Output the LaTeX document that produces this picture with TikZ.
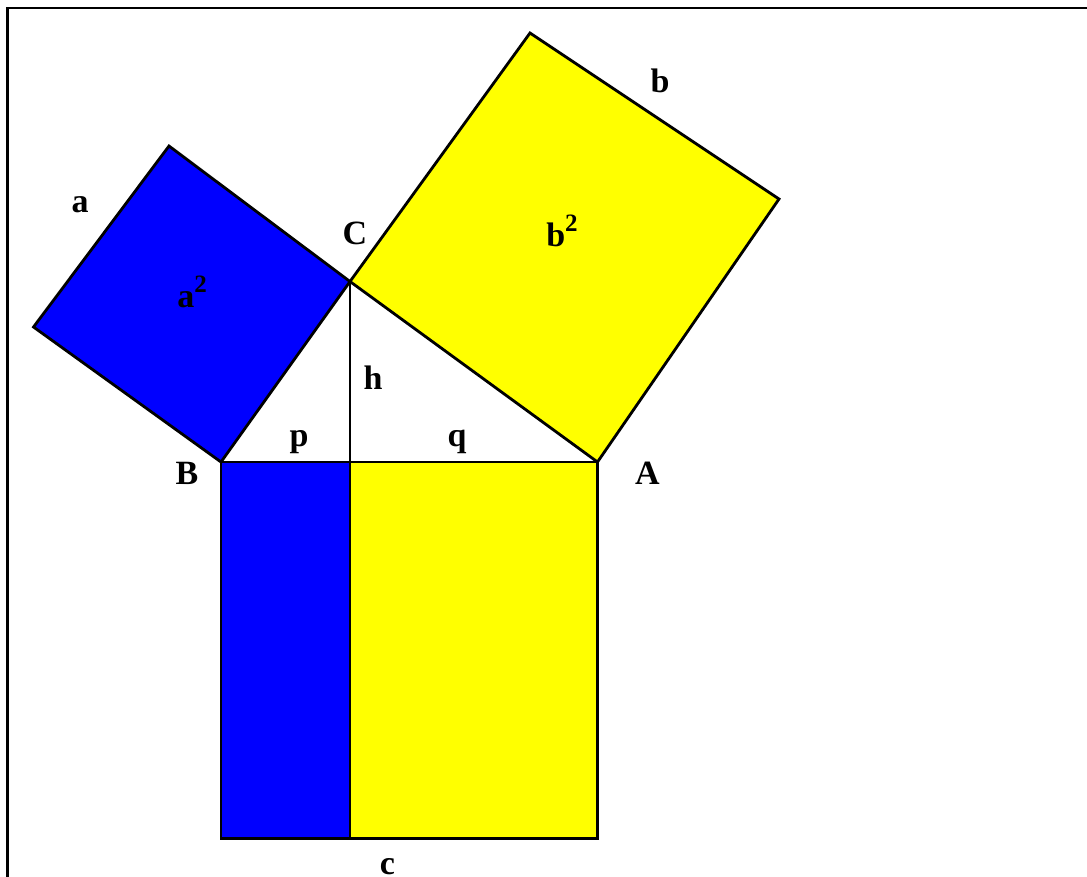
\documentclass[tikz,border=0pt]{standalone}
\usepackage{fontspec}
\setmainfont{Liberation Serif}
\usepackage{tikz}
\definecolor{sqblue}{rgb}{0,0,1}
\definecolor{sqyellow}{rgb}{1,1,0}
\tikzset{baseline=(current bounding box.center)}
\newcommand{\sqr}{\raisebox{0.45em}{\fontsize{25}{28}\selectfont 2}}

\begin{document}
\begin{tikzpicture}[x=1pt,y=-1pt,
    lbl/.style={inner sep=0pt,font=\fontsize{34}{38}\selectfont\bfseries},
    side/.style={draw=black,line width=2.8pt,line join=miter}]
\useasboundingbox (0,0) rectangle (1087,876);
\clip (0,0) rectangle (1087,876);
\draw[line width=2.2pt] (7.5,900) -- (7.5,8) -- (1100,8);

% triangle corners
\coordinate (B) at (221,462);
\coordinate (A) at (597.5,462);
\coordinate (C) at (350,281.5);
\coordinate (H) at (350,462);
% outer corners of the squares
\coordinate (Ca) at (169,146);
\coordinate (Ba) at (33.5,327);
\coordinate (Cb) at (530,33);
\coordinate (Ab) at (779,199);
\coordinate (Bc) at (221,838.5);
\coordinate (Hc) at (350,838.5);
\coordinate (Ac) at (597.5,838.5);

\fill[sqblue] (B) -- (C) -- (Ca) -- (Ba) -- cycle;
\fill[sqyellow] (C) -- (A) -- (Ab) -- (Cb) -- cycle;
\fill[sqblue] (B) -- (H) -- (Hc) -- (Bc) -- cycle;
\fill[sqyellow] (H) -- (A) -- (Ac) -- (Hc) -- cycle;

\draw[side] (B) -- (C) -- (Ca) -- (Ba) -- cycle;
\draw[side] (C) -- (A) -- (Ab) -- (Cb) -- cycle;
\draw[side] (B) -- (A) -- (Ac) -- (Bc) -- cycle;
\draw[side] (C) -- (H) -- (Hc);

\node[lbl] (la) at (80,205) {a};
\node[lbl] (lb) at (660,81) {b};
\node[lbl] (lc) at (387.5,867) {c};
\node[lbl] (lC) at (355,233) {C};
\node[lbl] (lB) at (187,473.5) {B};
\node[lbl] (lA) at (647.5,473.5) {A};
\node[lbl] (lh) at (373,378) {h};
\node[lbl] (lp) at (299,442) {p};
\node[lbl] (lq) at (457,442) {q};
\node[lbl] (la2) at (192,292) {a\sqr};
\node[lbl] (lb2) at (562,231) {b\sqr};
\end{tikzpicture}
\end{document}
